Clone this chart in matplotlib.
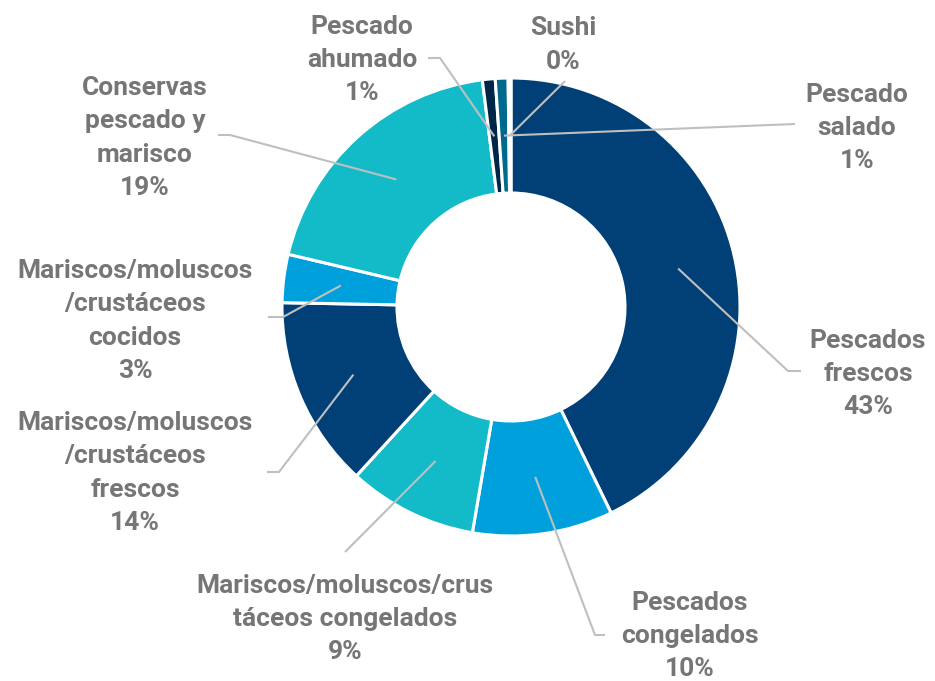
import matplotlib
matplotlib.use("Agg")
import matplotlib.pyplot as plt
import numpy as np

categories = ["Pescados frescos", "Pescados congelados",
              "Mariscos/moluscos/crustáceos congelados",
              "Mariscos/moluscos/crustáceos frescos",
              "Mariscos/moluscos/crustáceos cocidos",
              "Conservas pescado y marisco", "Pescado ahumado",
              "Pescado salado", "Sushi"]
values = [42.8, 9.9, 9.1, 13.5, 3.4, 19.3, 0.9, 0.9, 0.2]
pct_labels = ["43%", "10%", "9%", "14%", "3%", "19%", "1%", "1%", "0%"]
label_text = ["Pescados\nfrescos", "Pescados\ncongelados",
              "Mariscos/moluscos/crus\ntáceos congelados",
              "Mariscos/moluscos\n/crustáceos\nfrescos",
              "Mariscos/moluscos\n/crustáceos\ncocidos",
              "Conservas\npescado y\nmarisco", "Pescado\nahumado",
              "Pescado\nsalado", "Sushi"]
colors = ["#004077", "#00A0DC", "#13BAC8", "#004077", "#00A0DC",
          "#13BAC8", "#002647", "#006A8E", "#0B7A85"]

W, H = 935, 681
fig = plt.figure(figsize=(W / 100, H / 100), dpi=100)
ax = fig.add_axes([0, 0, 1, 1])

cx, cy_img, R = 511, 307, 229
cy = H - cy_img
ring = 115

wedges, _ = ax.pie(values, colors=colors, startangle=90, counterclock=False,
                   center=(cx, cy), radius=R, frame=True,
                   wedgeprops=dict(width=ring, edgecolor="white", linewidth=2.2))
ax.set_xlim(0, W)
ax.set_ylim(0, H)
ax.set_aspect("equal")
ax.axis("off")

# label layout (image pixel coords): text center, leader line path points
label_pos = [(868, 374), (690, 636), (345, 619), (135, 473), (135, 321),
             (145, 138), (362, 60), (857, 128), (563, 45)]
leader_pts = [[(788, 371), (801, 371)],
              [(595, 635), (605, 635)],
              [(345, 552)],
              [(279, 472), (267, 472)],
              [(283, 317), (268, 317)],
              [(230, 135), (218, 135)],
              [(440, 58), (428, 58)],
              [(795, 124)],
              [(565, 81)]]

mid_r = R - ring / 2
cum = np.cumsum([0] + values)
total = sum(values)
txt_color = "#767676"
for i, w in enumerate(wedges):
    theta = np.deg2rad(90 - 360 * (cum[i] + values[i] / 2) / total)
    px = cx + mid_r * np.cos(theta)
    py = cy + mid_r * np.sin(theta)
    xs = [px] + [p[0] for p in leader_pts[i]]
    ys = [py] + [H - p[1] for p in leader_pts[i]]
    ax.plot(xs, ys, color="#BFBFBF", lw=1.5, zorder=3, solid_capstyle="butt")
    tx, ty = label_pos[i]
    ax.text(tx, H - ty, label_text[i] + "\n" + pct_labels[i], ha="center",
            va="center", multialignment="center", fontsize=19,
            fontweight="bold", color=txt_color, family="Roboto",
            linespacing=1.48)

fig.savefig("out.png", dpi=100)
